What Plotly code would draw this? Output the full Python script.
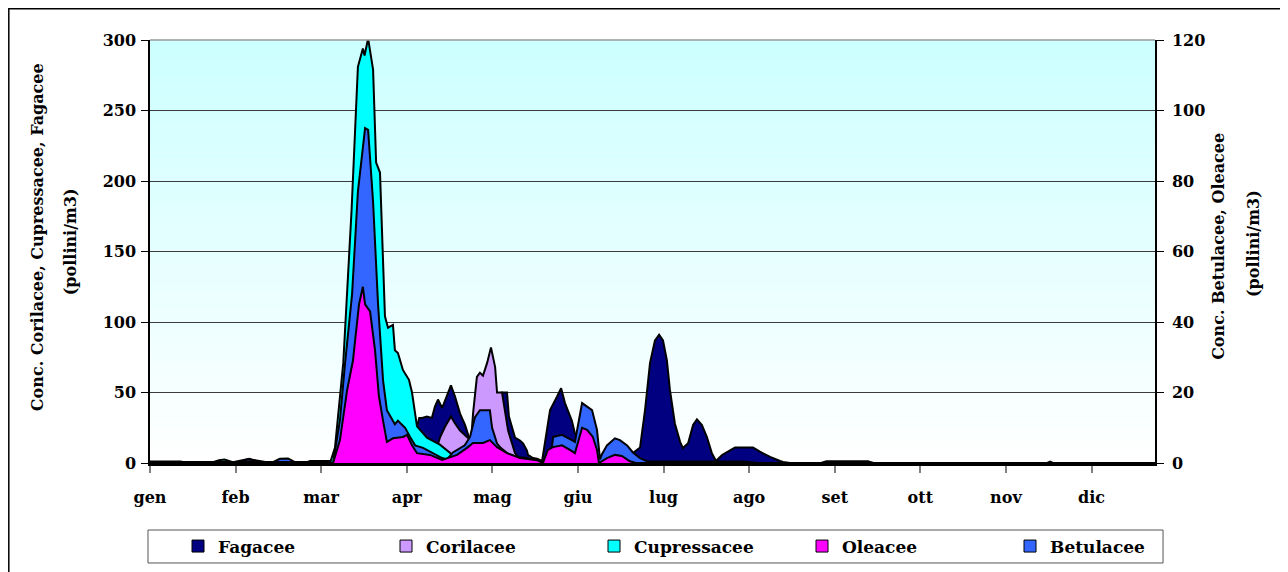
import plotly.graph_objects as go

# ---------------- DATA (day of year, value) ----------------
months = ["gen", "feb", "mar", "apr", "mag", "giu", "lug", "ago", "set", "ott", "nov", "dic"]
month_days = [0, 31, 62, 93, 124, 155, 186, 217, 248, 279, 310, 341]

# Left axis series (pollini/m3)
fag_day = [0, 4, 8, 11, 14, 56, 58, 62, 65, 67, 94, 96, 97.5, 98.5, 100.3, 102.1, 103.2, 104.3, 105.8,
           107.6, 109, 110.5, 112.3, 114.1, 115.9, 119, 123, 127.5, 129.3, 130, 131.5, 132.2, 134,
           135.1, 136.5, 136.9, 138.7, 140.2, 142, 143.1, 144.9, 147.4, 148.9, 150.3, 152.8, 153.9,
           156, 159, 162, 165, 170, 174.9, 177.5, 179.3, 181.1, 182.9, 184.4, 185.8, 187.2, 188.3,
           190.1, 192, 193, 194.9, 196.7, 198.1, 199.9, 201.7, 203.5, 205, 207.2, 210.1, 211.9,
           216.2, 218.4, 220.9, 224.6, 228.2, 229.3, 231.8, 243, 245, 251, 253, 260, 262, 325, 326, 327, 364]
fag_val = [1, 1, 0.5, 1, 0, 0, 1.5, 1.5, 1.5, 0, 0, 20, 32, 32, 33, 32, 40, 45, 39,
           48, 55, 47, 35, 27, 16, 30, 40, 50, 50, 33, 23, 18, 16,
           14, 9, 5.7, 3.5, 3, 1.4, 16, 37.6, 47, 53, 42.5, 30, 21,
           15, 8, 4, 2, 2, 7, 11, 37.6, 71, 87, 91, 87, 73, 52,
           28, 15, 10.6, 14, 27, 31, 27, 18.4, 7, 1.4, 5.7, 9, 11,
           11, 11, 8, 4.3, 1.4, 0.7, 0, 0, 1.2, 1.2, 0.8, 1.2, 0, 0, 1, 0, 0]

cor_day = [0, 102, 103, 105, 106.8, 109, 110.5, 112.3, 114.8, 116.3, 117, 118.4, 119.5, 120.6,
           122.1, 123.5, 125, 125.7, 127.5, 128.6, 129.7, 131.1, 132.2, 133.3, 134.7, 137, 364]
cor_val = [0, 0, 5, 18, 25.5, 33, 28, 23, 18.4, 16, 35, 61, 64, 62,
           71, 82, 68, 50, 50, 38, 23, 14, 7, 4, 1, 0, 0]

cup_day = [0, 22, 25, 27, 30, 33, 36, 40, 64, 65.2, 67, 70, 73, 75.3, 77.1, 77.7, 79, 80.8, 81.9,
           83.3, 85.1, 86.2, 88, 88.7, 89.8, 91.6, 93.8, 94.9, 96.7, 100.3, 105, 109.4, 111.2,
           113.4, 116, 120, 130, 132, 135, 137, 364]
cup_val = [0, 0, 2, 2.5, 0.5, 2, 3, 0.5, 0, 0, 11, 71, 179, 281, 294, 289, 301, 279, 213,
           206, 104, 96, 98, 80, 78, 66, 59, 50, 26, 18, 13, 6, 4,
           1, 0.5, 0, 0, 2, 2, 0, 0]

# Right axis series (pollini/m3)
bet_day = [0, 32, 35, 38, 44, 47, 50, 53, 66.3, 68.8, 70.6, 73.2, 75.3, 77.9, 79, 80.8, 82.6,
           84.4, 85.8, 88.7, 89.8, 92.4, 94.2, 96, 98.9, 102.5, 105.8, 107.6, 109.7, 114,
           115.9, 117.7, 119.5, 123.1, 123.9, 125.7, 126.8, 129.3, 132.9, 136.5, 140.2, 142.3,
           144.1, 145.6, 146, 149.2, 152.8, 153.9, 156.5, 158.3, 160.1, 161.9, 163, 163.7,
           165.5, 168.4, 170.2, 172.8, 174.9, 177.5, 180, 215, 220, 364]
bet_val = [0, 0, 1, 0.8, 0, 1.2, 1.3, 0, 0, 12.2, 28, 48, 77, 95, 94.5, 74, 45,
           23.5, 15, 11, 12, 10, 7.4, 5, 4.3, 2.8, 1.4, 1, 3, 5,
           7.4, 13, 15, 15, 10, 5.5, 4.5, 2.8, 1.7, 1.4, 0.5, 0,
           3, 4.5, 7.4, 8, 6.5, 6, 17, 16, 15, 9.4, 1, 2.5,
           5, 7, 6.5, 5, 3, 1.4, 0.5, 0.4, 0, 0]

ole_day = [0, 60, 66.3, 68.8, 71.4, 73.5, 75.7, 77.1, 77.9, 79.7, 81.5, 82.9, 84.4, 85.8, 88,
           91.6, 93.1, 94.9, 96.7, 101.4, 105.8, 107.6, 111.2, 114.8, 117, 120.6, 123.1, 125.7,
           129.3, 134, 140.2, 142.3, 144.1, 146, 149.2, 152.1, 153.9, 156.5, 158.3, 160.4, 161.9,
           162.6, 165.5, 168.4, 170.9, 173.8, 176, 364]
ole_val = [0.3, 0.3, 0, 6.5, 20.7, 29, 45, 50, 45, 43, 32, 19, 12, 6, 7,
           7.4, 8, 5, 2.8, 2.3, 0.9, 1.4, 2.3, 4.3, 5.7, 5.7, 6.5, 4.5,
           2.8, 1.4, 0.8, 0, 3.7, 4.5, 5, 3.7, 2.8, 10, 9.4, 7.4, 3.7,
           0, 1.4, 2.3, 2, 0.5, 0, 0]

series_names = ["Fagacee", "Corilacee", "Cupressacee", "Oleacee", "Betulacee"]
series_colors = {"Fagacee": "#000080", "Corilacee": "#CC99FF", "Cupressacee": "#00FFFF",
                 "Oleacee": "#FF00FF", "Betulacee": "#3366FF"}

left_title = ["Conc. Corilacee, Cupressacee, Fagacee", "(pollini/m3)"]
right_title = ["Conc. Betulacee, Oleacee", "(pollini/m3)"]

FONT = "DejaVu Serif"
fig = go.Figure()

def area(x, y, name, axis):
    fig.add_trace(go.Scatter(
        x=x, y=y, name=name, yaxis=axis, mode="lines", fill="tozeroy",
        fillcolor=series_colors[name], line=dict(color="black", width=2),
        showlegend=False, hoverinfo="x+y+name"))

# draw order: primary axis first (back), then secondary (front)
area(fag_day, fag_val, "Fagacee", "y")
area(cor_day, cor_val, "Corilacee", "y")
area(cup_day, cup_val, "Cupressacee", "y")
area(bet_day, bet_val, "Betulacee", "y2")
area(ole_day, ole_val, "Oleacee", "y2")

# legend entries (square symbols)
for nm in series_names:
    fig.add_trace(go.Scatter(
        x=[None], y=[None], name=nm, mode="markers",
        marker=dict(symbol="square", size=12, color=series_colors[nm],
                    line=dict(color="black", width=1)),
        showlegend=True))

# gradient background bands
shapes = []
nb = 60
top = (204, 255, 255)
for i in range(nb):
    t = (i + 0.5) / nb
    r = round(255 + (top[0] - 255) * t)
    g = round(255 + (top[1] - 255) * t)
    b = round(255 + (top[2] - 255) * t)
    shapes.append(dict(type="rect", xref="x domain", yref="y domain",
                       x0=0, x1=1, y0=i / nb, y1=(i + 1) / nb + 0.001,
                       fillcolor=f"rgb({r},{g},{b})", line=dict(width=0), layer="below"))
# top border of plot area
shapes.append(dict(type="line", xref="x domain", yref="y domain", x0=0, x1=1, y0=1, y1=1,
                   line=dict(color="#9a9a9a", width=1.5), layer="above"))
# outer chart border
shapes.append(dict(type="rect", xref="paper", yref="paper", x0=-0.1405, x1=1.3,
                   y0=-0.5, y1=1.0739, line=dict(color="black", width=1.5)))
# legend box
shapes.append(dict(type="rect", xref="paper", yref="paper", x0=-0.002, x1=1.008,
                   y0=-0.2364, y1=-0.1584, line=dict(color="#555", width=1)))

tickfont = dict(family=FONT, size=16, color="black", weight="bold")
titlefont = dict(family=FONT, size=16, color="black", weight="bold")

annotations = []
for txt, xp, yp in [(left_title[0], -0.1124, 0.534), (left_title[1], -0.0796, 0.522),
                    (right_title[0], 1.0637, 0.511), (right_title[1], 1.0975, 0.52)]:
    annotations.append(dict(text=txt, x=xp, y=yp, xref="paper", yref="paper",
                            xanchor="center", yanchor="middle", textangle=-90,
                            showarrow=False, font=titlefont))

fig.update_layout(
    width=1280, height=564,
    margin=dict(l=142, r=133, t=32, b=109, autoexpand=False),
    paper_bgcolor="white", plot_bgcolor="rgba(0,0,0,0)",
    shapes=shapes, annotations=annotations,
    showlegend=True,
    legend=dict(orientation="h", x=1.0627, xanchor="right", y=-0.1974, yanchor="middle",
                font=dict(family=FONT, size=17, color="black", weight="bold"),
                entrywidth=163, entrywidthmode="pixels", bgcolor="rgba(0,0,0,0)",
                borderwidth=0, itemwidth=30),
    xaxis=dict(range=[0, 364], tickvals=month_days, ticktext=months, ticks="outside",
               ticklen=7, tickcolor="#808080", tickwidth=1.5, showgrid=False, zeroline=False,
               showline=True, linecolor="black", linewidth=2.5, tickfont=tickfont,
               ticklabelstandoff=11, automargin=False),
    yaxis=dict(range=[0, 300], dtick=50, ticks="outside", ticklen=7, tickcolor="black",
               showgrid=True, gridcolor="#3c3c3c", gridwidth=1, zeroline=False,
               showline=True, linecolor="black", linewidth=1.5, tickfont=tickfont,
               ticklabelstandoff=2, automargin=False),
    yaxis2=dict(range=[0, 120], dtick=20, overlaying="y", side="right", ticks="outside",
                ticklen=7, tickcolor="black", showgrid=False, zeroline=False,
                showline=True, linecolor="black", linewidth=1.5, tickfont=tickfont,
                ticklabelstandoff=5, automargin=False),
)

fig.write_html("out.html")
